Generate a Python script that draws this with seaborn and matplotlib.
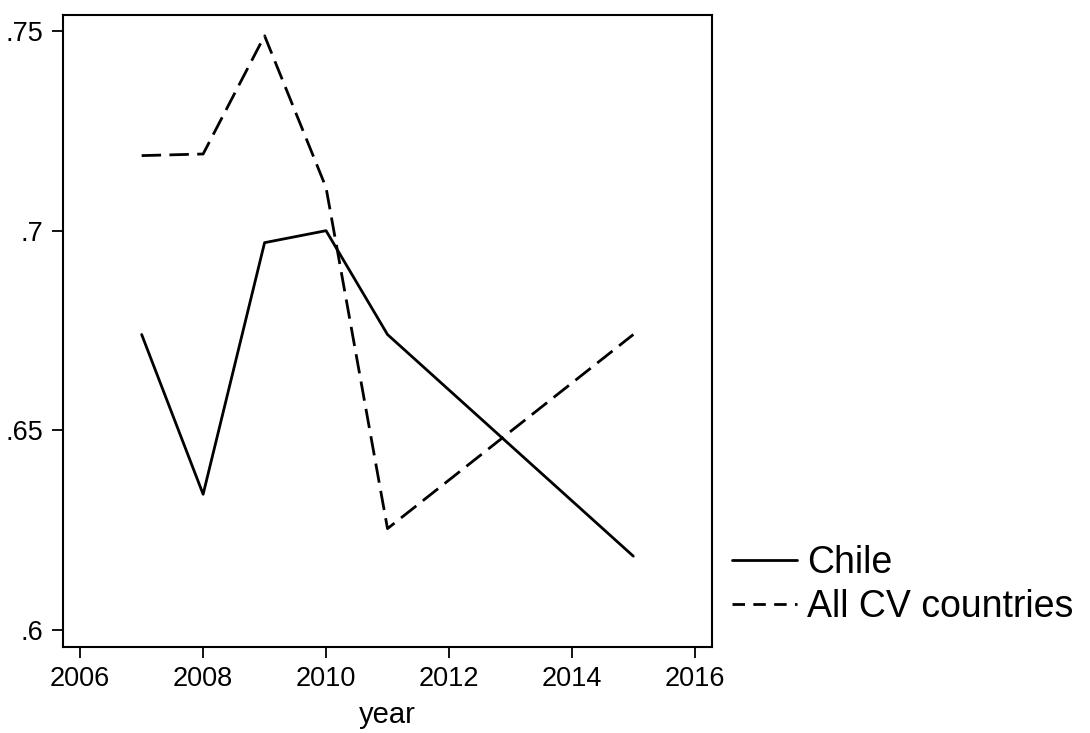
import numpy as np
import pandas as pd
import matplotlib
matplotlib.use("Agg")
import matplotlib.pyplot as plt
import seaborn as sns

# values
years = [2007, 2008, 2009, 2010, 2011, 2015]
chile = [0.674, 0.634, 0.697, 0.700, 0.674, 0.6185]
all_cv = [0.7188, 0.7192, 0.7488, 0.7108, 0.6254, 0.674]
series_names = ["Chile", "All CV countries"]
x_ticks = [2006, 2008, 2010, 2012, 2014, 2016]
y_ticks = [0.6, 0.65, 0.7, 0.75]
y_tick_labels = [".6", ".65", ".7", ".75"]

df = pd.DataFrame({
    "year": years * 2,
    "value": chile + all_cv,
    "series": [series_names[0]] * len(years) + [series_names[1]] * len(years),
})

sns.set_style("ticks")
plt.rcParams["font.family"] = ["Liberation Sans", "DejaVu Sans"]
plt.rcParams["text.color"] = "black"
plt.rcParams["axes.labelcolor"] = "black"
plt.rcParams["xtick.color"] = "black"
plt.rcParams["ytick.color"] = "black"

fig = plt.figure(figsize=(10.9, 7.33), dpi=100)
ax = fig.add_axes([0.0578, 0.1173, 0.6532 - 0.0578, 0.9795 - 0.1173])

sns.lineplot(data=df, x="year", y="value", style="series",
             dashes={series_names[0]: "", series_names[1]: (7, 3)},
             color="black", linewidth=2.0, ax=ax, legend=True)

ax.set_xlim(2005.72, 2016.28)
ax.set_ylim(0.59575, 0.754)
ax.set_xticks(x_ticks)
ax.set_yticks(y_ticks)
ax.set_yticklabels(y_tick_labels)
ax.tick_params(labelsize=19.5, length=8, width=1.3, colors="black", pad=6)
ax.set_xlabel("year", fontsize=21, labelpad=6, color="black")
ax.set_ylabel("")
for sp in ax.spines.values():
    sp.set_visible(True)
    sp.set_linewidth(1.5)
    sp.set_color("black")

handles, labels = ax.get_legend_handles_labels()
ax.get_legend().remove()
for h in handles:
    if h.get_label() == series_names[1]:
        h.set_dashes((4.5, 3))
fig.legend(handles, labels, loc="center left", bbox_to_anchor=(0.6716, 0.202),
           frameon=False, fontsize=27, handlelength=1.72, handletextpad=0.28,
           labelspacing=0.2, borderpad=0, borderaxespad=0)

fig.savefig("out.png", dpi=100)
